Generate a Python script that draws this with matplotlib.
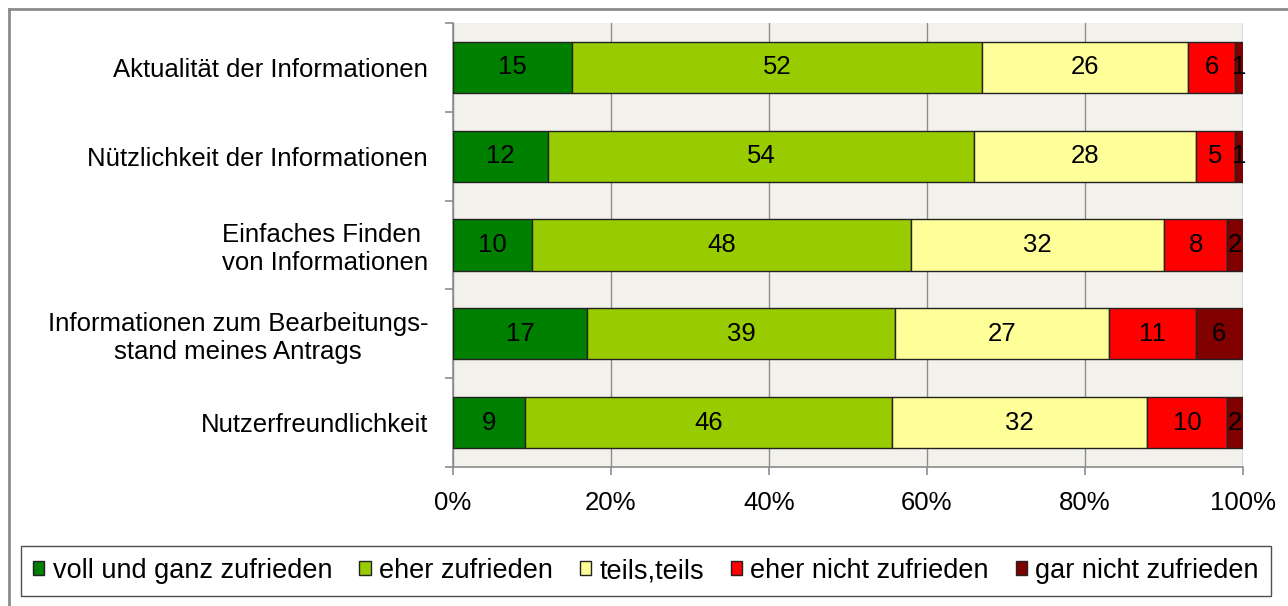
import matplotlib
matplotlib.use("Agg")
import matplotlib.pyplot as plt
import numpy as np
from matplotlib.lines import Line2D
from matplotlib.ticker import FixedLocator, PercentFormatter

plt.rcParams['font.family'] = ['Liberation Sans', 'DejaVu Sans']

categories = [
    "Aktualität der Informationen",
    "Nützlichkeit der Informationen",
    "Einfaches Finden \nvon Informationen",
    "Informationen zum Bearbeitungs-\nstand meines Antrags",
    "Nutzerfreundlichkeit",
]
series_names = ["voll und ganz zufrieden", "eher zufrieden", "teils,teils",
                "eher nicht zufrieden", "gar nicht zufrieden"]
voll = [15, 12, 10, 17, 9]
eher = [52, 54, 48, 39, 46]
teils = [26, 28, 32, 27, 32]
eher_nicht = [6, 5, 8, 11, 10]
gar_nicht = [1, 1, 2, 6, 2]
colors = ["#008000", "#99CC00", "#FFFF99", "#FF0000", "#800000"]
x_ticks = [0, 20, 40, 60, 80, 100]

series = [voll, eher, teils, eher_nicht, gar_nicht]
data = np.array(series, dtype=float)
totals = data.sum(axis=0)
pct = data / totals * 100

W, H = 1288, 606
fig = plt.figure(figsize=(W / 100, H / 100), dpi=100)
fig.patch.set_facecolor("white")
# outer frame (cropped on right/bottom)
fx, fy = 8.5 / W, 1 - 8.5 / H
fig.add_artist(Line2D([fx, 1.0], [fy, fy], transform=fig.transFigure,
                      color="#8C8C8C", linewidth=2.0))
fig.add_artist(Line2D([fx, fx], [0.0, fy], transform=fig.transFigure,
                      color="#8C8C8C", linewidth=2.0))

ax = fig.add_axes([453 / W, 1 - 467 / H, 790 / W, 444 / H])
ax.set_facecolor("#F2F1EB")

FS = 18.5
y = np.arange(len(categories))
left = np.zeros(len(categories))
for vals, p, col, name in zip(series, pct, colors, series_names):
    ax.barh(y, p, left=left, height=0.575, color=col, edgecolor="#222222",
            linewidth=1.0, label=name, zorder=3)
    for yi, (l, w, v) in enumerate(zip(left, p, vals)):
        ax.text(l + w / 2, yi, str(v), ha="center", va="center",
                fontsize=FS, color="black", zorder=4, clip_on=False)
    left += p

ax.set_xlim(0, 100)
ax.set_ylim(len(categories) - 0.5, -0.5)
ax.xaxis.set_major_locator(FixedLocator(x_ticks))
ax.xaxis.set_major_formatter(PercentFormatter(decimals=0))
ax.grid(axis="x", color="#8C8C8C", linewidth=1.0, zorder=0)
ax.set_axisbelow(True)

ax.set_yticks(y)
ax.set_yticklabels(categories, fontsize=FS, ha="right", multialignment="center")
ax.set_yticks(np.arange(-0.5, len(categories) + 0.5, 1), minor=True)
ax.tick_params(axis="y", which="major", length=0, pad=18)
ax.tick_params(axis="y", which="minor", length=6, color="#8C8C8C", width=1.2)
ax.tick_params(axis="x", which="major", length=6, color="#8C8C8C", width=1.2,
               labelsize=FS, pad=11)

for s in ["top", "right"]:
    ax.spines[s].set_visible(False)
for s in ["left", "bottom"]:
    ax.spines[s].set_color("#8C8C8C")
    ax.spines[s].set_linewidth(1.2)

leg = fig.legend(loc="center", bbox_to_anchor=(646 / W, 1 - 571 / H), ncol=5,
                 fontsize=19.5, frameon=True, fancybox=False, edgecolor="#222222",
                 handlelength=0.42, handleheight=0.42, handletextpad=0.3,
                 columnspacing=1.0, borderpad=0.45, borderaxespad=0)
leg.get_frame().set_linewidth(1.0)

fig.savefig("out.png", dpi=100)
